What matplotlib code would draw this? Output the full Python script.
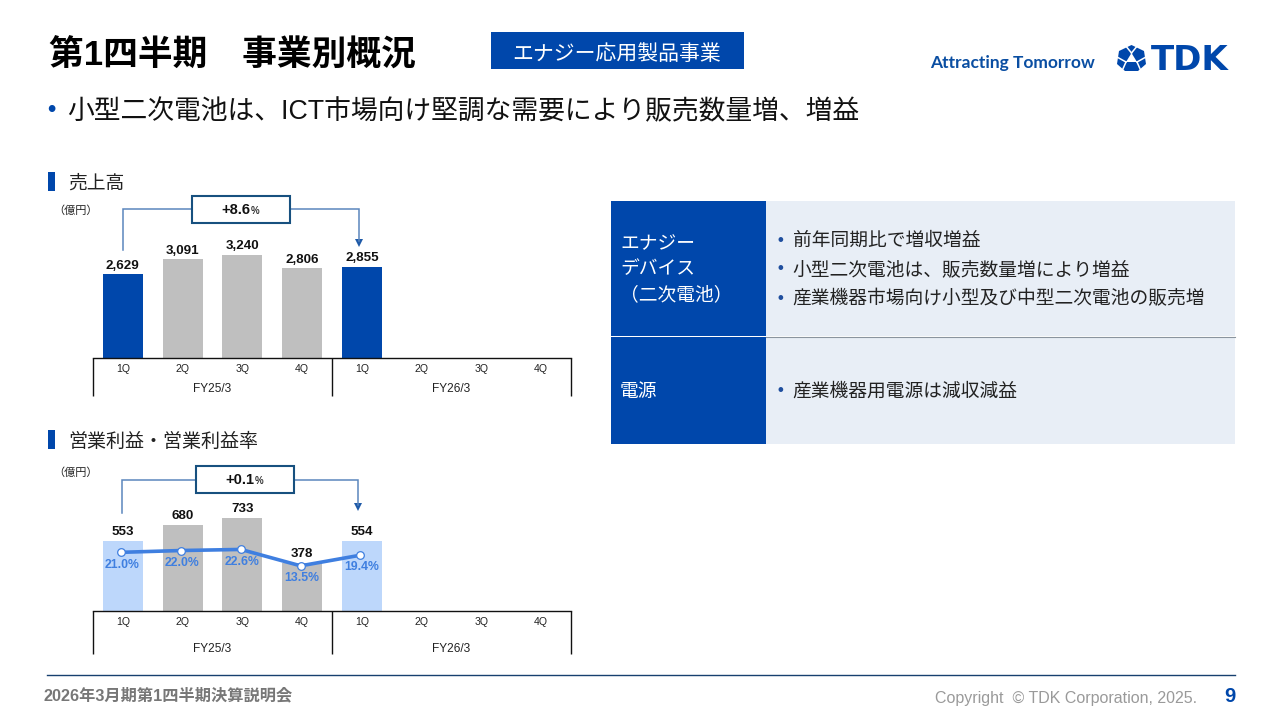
import matplotlib
matplotlib.use("Agg")
import matplotlib.pyplot as plt
from matplotlib.patches import Rectangle, Polygon
from matplotlib.transforms import blended_transform_factory

# ---------- data ----------
quarters = ["1Q", "2Q", "3Q", "4Q", "1Q", "2Q", "3Q", "4Q"]
fiscal_years = ["FY25/3", "FY26/3"]
sales = [2629, 3091, 3240, 2806, 2855]
profit = [553, 680, 733, 378, 554]
margin = [21.0, 22.0, 22.6, 13.5, 19.4]
sales_colors = ["#0047AB", "#BFBFBF", "#BFBFBF", "#BFBFBF", "#0047AB"]
profit_colors = ["#BDD7FB", "#BFBFBF", "#BFBFBF", "#BFBFBF", "#BDD7FB"]
sales_change = "+8.6"
profit_change = "+0.1"
table_rows = [
    ("エナジー\nデバイス\n（二次電池）",
     ["前年同期比で増収増益", "小型二次電池は、販売数量増により増益", "産業機器市場向け小型及び中型二次電池の販売増"]),
    ("電源", ["産業機器用電源は減収減益"]),
]

W, H = 1281, 720
BLUE = "#0047AB"
LBLUE = "#3F7FE0"
FONT = ["Liberation Sans", "Noto Sans CJK JP"]
plt.rcParams["font.family"] = FONT

fig = plt.figure(figsize=(W / 100, H / 100), dpi=100, facecolor="white")

bg = fig.add_axes([0, 0, 1, 1])
bg.set_xlim(0, W)
bg.set_ylim(H, 0)
bg.axis("off")


def rect(x0, y0, x1, y1, **kw):
    bg.add_patch(Rectangle((x0, y0), x1 - x0, y1 - y0, **kw))


def txt(x, y, s, size, color="#111111", ha="left", va="center", weight="normal", **kw):
    return bg.text(x, y, s, fontsize=size, color=color, ha=ha, va=va, fontweight=weight, **kw)


# ---------- header ----------
txt(49, 56, "第1四半期　事業別概況", 25, "#000000", weight="bold")
rect(491, 32, 744, 69, fc=BLUE, ec="none")
txt(617, 54, "エナジー応用製品事業", 15, "white", ha="center")
txt(930, 63, "Attracting Tomorrow", 12.5, "#0A4EA2", weight="bold", family=["Lato"])
txt(1190, 60, "TDK", 24.5, BLUE, ha="center", weight="bold", family=["DejaVu Sans"])
# logo mark: faceted hexagon
bg.add_patch(Polygon([(1131.5, 45), (1144, 51), (1146, 64), (1138, 71), (1125, 71), (1117, 64), (1119, 51)],
                     fc=BLUE, ec="none"))
bg.add_patch(Polygon([(1131.5, 53), (1137, 62), (1126, 62)], fc="white", ec="none"))
for a, b in (((1131.5, 53), (1125, 45)), ((1131.5, 53), (1138, 45)), ((1137, 62), (1146, 57)),
             ((1137, 62), (1141, 71)), ((1126, 62), (1117, 57)), ((1126, 62), (1122, 71))):
    bg.plot([a[0], b[0]], [a[1], b[1]], color="white", lw=1.1)

txt(47, 110, "•", 17, BLUE, weight="bold")
txt(67, 112.5, "小型二次電池は、ICT市場向け堅調な需要により販売数量増、増益", 19.3, "#111111")

# ---------- section headers ----------
rect(48, 172, 55, 191, fc=BLUE, ec="none")
txt(68, 184, "売上高", 13.5, "#222222")
rect(48, 430, 55, 449, fc=BLUE, ec="none")
txt(68, 442, "営業利益・営業利益率", 13.7, "#222222")
txt(53, 211, "（億円）", 8, "#222222")
txt(53, 473, "（億円）", 8, "#222222")


# ---------- charts ----------
def make_axes(base_px, top_px, x0=93, x1=571):
    ax = fig.add_axes([x0 / W, 1 - base_px / H, (x1 - x0) / W, (base_px - top_px) / H])
    ax.patch.set_alpha(0)
    ax.set_xlim(-0.5, 7.5)
    for side in ("left", "right", "top"):
        ax.spines[side].set_visible(False)
    ax.spines["bottom"].set_linewidth(1.0)
    ax.spines["bottom"].set_color("#111111")
    ax.yaxis.set_visible(False)
    ax.set_xticks(range(len(quarters)), quarters)
    return ax


def category_frame(ax, drop_px, group_px):
    tr = blended_transform_factory(ax.transData, ax.transAxes)
    h = ax.get_position().height * H
    for x in (-0.5, 3.5, 7.5):
        ax.plot([x, x], [0, -drop_px / h], color="#111111", lw=1.0, transform=tr, clip_on=False,
                solid_capstyle="butt")
    for i, label in enumerate(fiscal_years):
        ax.text(1.5 + 4 * i, -group_px / h, label, transform=tr, ha="center", va="center",
                fontsize=8.6, color="#222222")


def bracket(y, x_left, x_right, y_left, tip, box, label):
    col = "#5B86BD"
    bx0, by0, bx1, by1 = box
    bg.plot([x_left, x_left, bx0], [y_left, y, y], color=col, lw=1.1, solid_joinstyle="miter")
    bg.plot([bx1, x_right, x_right], [y, y, tip - 6], color=col, lw=1.1, solid_joinstyle="miter")
    bg.add_patch(Polygon([(x_right - 4, tip - 8), (x_right + 4, tip - 8), (x_right, tip)], fc="#1F5AA8", ec="none"))
    rect(bx0, by0, bx1, by1, fc="white", ec="#17507F", lw=1.5, zorder=3)
    bg.text((bx0 + bx1) / 2 - 5, (by0 + by1) / 2, label, fontsize=10.5, fontweight="bold",
            color="#111111", ha="center", va="center", zorder=4)
    bg.text((bx0 + bx1) / 2 + 14.5, (by0 + by1) / 2 + 1, "%", fontsize=7, fontweight="bold",
            color="#333333", ha="center", va="center", zorder=4)


# top chart
ax1 = make_axes(358, 200)
ax1.set_ylim(0, (358 - 200) / 0.0319)
ax1.bar(range(len(sales)), sales, width=0.67, color=sales_colors)
for i, v in enumerate(sales):
    ax1.annotate(f"{v:,}", (i, v), xytext=(0, 6.2), textcoords="offset points", ha="center", va="center",
                 fontsize=9.6, fontweight="bold", color="#111111")
ax1.tick_params(axis="x", length=0, pad=4.2, labelsize=7.6, labelcolor="#222222")
category_frame(ax1, 38, 31)
bracket(209, 122.5, 359, 250, 247, (192, 196, 290, 223), sales_change)

# bottom chart
ax2 = make_axes(611, 455)
ax2.set_ylim(0, (611 - 455) / 0.1268)
ax2.bar(range(len(profit)), profit, width=0.67, color=profit_colors)
for i, v in enumerate(profit):
    ax2.annotate(f"{v:,}", (i, v), xytext=(0, 6.4), textcoords="offset points", ha="center", va="center",
                 fontsize=9.6, fontweight="bold", color="#111111")
ax2.tick_params(axis="x", length=0, pad=4.2, labelsize=7.6, labelcolor="#222222")
category_frame(ax2, 43, 37.5)
bracket(479.5, 122, 358, 513, 511, (196, 466, 294, 493), profit_change)

# margin line, on its own percent scale
ax3 = fig.add_axes([91.5 / W, 1 - 611 / H, 478 / W, 156 / H])
ax3.patch.set_alpha(0)
ax3.axis("off")
ax3.set_xlim(-0.5, 7.5)
ax3.set_ylim(-11.6, -11.6 + 156 / 1.8)
ax3.plot(range(len(margin)), margin, color=LBLUE, lw=2.6, marker="o", ms=5.5, mfc="white",
         mec=LBLUE, mew=0.9, solid_capstyle="round", zorder=3)
for i, v in enumerate(margin):
    ax3.annotate(f"{v:.1f}%", (i, v), xytext=(0.8, -8.8), textcoords="offset points", ha="center", va="center",
                 fontsize=8.8, fontweight="bold", color=LBLUE, zorder=4)

# ---------- table ----------
rect(611, 201, 766, 336, fc=BLUE, ec="none")
rect(611, 337, 766, 444, fc=BLUE, ec="none")
rect(766, 201, 1235, 336, fc="#E8EEF6", ec="none")
rect(766, 337, 1235, 444, fc="#E8EEF6", ec="none")
bg.plot([766, 1235], [336.5, 336.5], color="#8A949E", lw=0.8)

left_y = [(245, 270, 295), (392,)]
right_y = [(241, 270, 299), (392,)]
for (head, items), ly, ry in zip(table_rows, left_y, right_y):
    for line, y in zip(head.split("\n"), ly):
        txt(620, y, line, 13.5, "white")
    for item, y in zip(items, ry):
        txt(777, y - 1, "•", 12, "#1F4E9E", weight="bold")
        txt(792.5, y, item, 13.5, "#222222")

# ---------- footer ----------
bg.plot([47, 1235], [675, 675], color="#17406F", lw=1.0)
txt(44, 696, "2026年3月期第1四半期決算説明会", 11.7, "#777777", weight="bold")
txt(1197, 699, "Copyright  © TDK Corporation, 2025.", 11.5, "#9A9A9A", ha="right")
txt(1230, 696, "9", 14.5, BLUE, ha="center", weight="bold")

fig.savefig("out.png", dpi=100)
